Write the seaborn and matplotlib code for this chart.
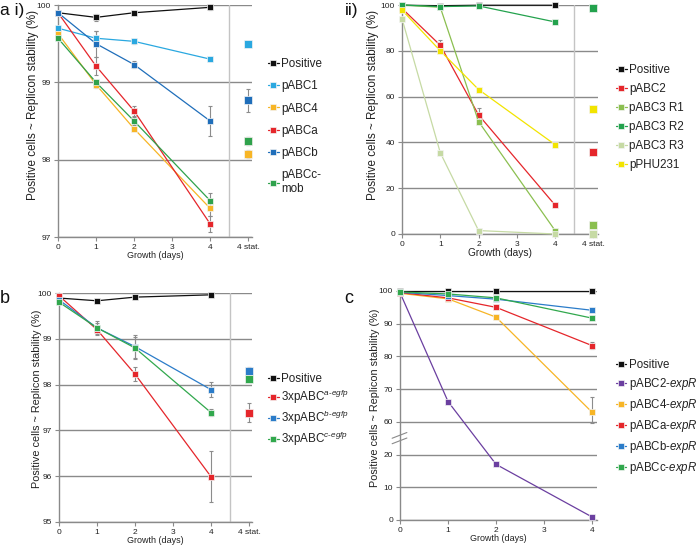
import numpy as np
import matplotlib
matplotlib.use("Agg")
import matplotlib.pyplot as plt
import seaborn as sns

# ---------------- data ----------------
days = [0, 1, 2, 4]
stat_x = [5]
x_ticks = [0, 1, 2, 3, 4, 5]
x_ticklabels = ["0", "1", "2", "3", "4", "4 stat."]

# panel a i)
a_names = ["Positive", "pABC1", "pABC4", "pABCa", "pABCb", "pABCc-\nmob"]
a_colors = ["#111111", "#2AA8E0", "#F7B526", "#E5262B", "#1F6EBA", "#2FA24C"]
a_vals = [
    [99.90, 99.84, 99.90, 99.97],
    [99.70, 99.57, 99.53, 99.30],
    [99.63, 98.97, 98.40, 97.37],
    [99.90, 99.21, 98.63, 97.17],
    [99.90, 99.50, 99.23, 98.50],
    [99.57, 99.00, 98.50, 97.47],
]
a_errs = [
    [0, 0.05, 0.02, 0.04],
    [0, 0.10, 0.03, 0.02],
    [0, 0.04, 0.02, 0.10],
    [0, 0.12, 0.06, 0.10],
    [0, 0.17, 0.05, 0.20],
    [0, 0.03, 0.05, 0.10],
]
a_stat = [None, 99.50, 98.07, 98.24, 98.77, 98.24]
a_stat_err = [0, 0.02, 0.05, 0.05, 0.15, 0.05]

# panel ii)
ii_names = ["Positive", "pABC2", "pABC3 R1", "pABC3 R2", "pABC3 R3", "pPHU231"]
ii_colors = ["#111111", "#E5262B", "#8BBF50", "#23A24D", "#C6DAA4", "#F2E400"]
ii_vals = [
    [99.9, 99.7, 99.9, 99.9],
    [98.5, 82.4, 52.0, 12.6],
    [100.0, 99.0, 49.1, 1.5],
    [100.0, 99.3, 99.6, 92.6],
    [94.0, 35.5, 1.5, 0.0],
    [97.8, 80.0, 63.1, 39.0],
]
ii_errs = [
    [0, 0, 0, 0],
    [0, 2.5, 3.2, 0],
    [0, 0, 0, 0],
    [0, 0, 0, 0],
    [0, 0, 0, 0],
    [0, 0, 0, 0],
]
ii_stat = [None, 36.0, 4.1, 98.5, 0.2, 54.8]
ii_stat_err = [0, 0, 0, 0, 0, 0]

# panel b
b_names = ["Positive",
           "3xpABC$^{\\mathit{a}\\text{-}\\mathit{egfp}}$",
           "3xpABC$^{\\mathit{b}\\text{-}\\mathit{egfp}}$",
           "3xpABC$^{\\mathit{c}\\text{-}\\mathit{egfp}}$"]
b_colors = ["#111111", "#E5262B", "#2B7CC9", "#31A84D"]
b_vals = [
    [99.89, 99.83, 99.91, 99.96],
    [99.94, 99.20, 98.23, 95.99],
    [99.85, 99.24, 98.83, 97.89],
    [99.80, 99.24, 98.80, 97.39],
]
b_errs = [
    [0, 0.02, 0.02, 0.03],
    [0, 0.10, 0.15, 0.56],
    [0, 0.15, 0.25, 0.17],
    [0, 0.10, 0.25, 0.08],
]
b_stat = [None, 97.39, 98.30, 98.13]
b_stat_err = [0, 0.20, 0.08, 0.05]

# panel c
c_names = ["Positive", "pABC2-$\\mathit{expR}$", "pABC4-$\\mathit{expR}$",
           "pABCa-$\\mathit{expR}$", "pABCb-$\\mathit{expR}$", "pABCc-$\\mathit{expR}$"]
c_colors = ["#111111", "#6B3FA0", "#F7B526", "#E5262B", "#2B7CC9", "#31A84D"]
c_vals = [
    [99.9, 99.9, 99.9, 99.9],
    [99.5, 66.2, 17.0, 0.9],
    [99.3, 97.6, 92.0, 62.9],
    [99.5, 97.9, 95.0, 83.3],
    [99.6, 98.6, 97.5, 94.1],
    [99.7, 99.1, 97.9, 91.7],
]
c_errs = [
    [0, 0, 0, 0],
    [0, 0, 0, 0],
    [0, 0, 0, 4.8],
    [0, 0, 0, 1.0],
    [0, 0, 0, 0],
    [0, 0, 0, 0],
]
c_yticks = [0, 10, 20, 60, 70, 80, 90, 100]

# ---------------- style ----------------
sns.set_theme(style="white")
plt.rcParams["font.family"] = ["Liberation Sans", "DejaVu Sans"]
plt.rcParams["mathtext.fontset"] = "custom"
plt.rcParams["mathtext.rm"] = "Liberation Sans"
plt.rcParams["mathtext.it"] = "Liberation Sans:italic"

GRID = "#8a8a8a"
SPINE = "#8a8a8a"
ERR = "#8c8c8c"
TXT = "#222222"

fig = plt.figure(figsize=(6.97, 5.47), dpi=100)
W, H = 697.0, 547.0


def add_ax(left, right, top, bottom):
    return fig.add_axes([left / W, 1 - bottom / H, (right - left) / W, (bottom - top) / H])


def style_ax(ax):
    sns.despine(ax=ax)
    for s in ("left", "bottom"):
        ax.spines[s].set_color(SPINE)
        ax.spines[s].set_linewidth(1.0)
    ax.yaxis.grid(True, color=GRID, lw=1.0)
    ax.xaxis.grid(False)
    ax.set_axisbelow(True)
    ax.tick_params(axis="both", which="major", length=3, width=0.8, color=SPINE,
                   labelsize=6, labelcolor=TXT, pad=2, direction="out",
                   bottom=True, left=True)


def draw_series(ax, names, colors, vals, errs, stat=None, stat_err=None):
    for i, (nm, col, v, e) in enumerate(zip(names, colors, vals, errs)):
        sns.lineplot(x=days, y=v, ax=ax, color=col, marker="s", markersize=5,
                     markeredgecolor="#f4f4f4", markeredgewidth=0.5, lw=0.9,
                     label=nm, clip_on=False, zorder=3 + i * 0.01, errorbar=None)
        idx = [k for k, ev in enumerate(e) if ev > 0]
        if idx:
            ax.errorbar([days[k] for k in idx], [v[k] for k in idx],
                        yerr=[e[k] for k in idx], fmt="none", ecolor=ERR,
                        elinewidth=0.8, capsize=1.5, capthick=0.8, zorder=2.5)
        if stat is not None and stat[i] is not None:
            sns.scatterplot(x=stat_x, y=[stat[i]], ax=ax, color=col, marker="s", s=26,
                            edgecolor="#f4f4f4", linewidth=0.5, zorder=3 + i * 0.01,
                            legend=False, clip_on=False)
            if stat_err[i] > 0:
                ax.errorbar(stat_x, [stat[i]], yerr=[stat_err[i]], fmt="none",
                            ecolor=ERR, elinewidth=0.8, capsize=1.5, capthick=0.8,
                            zorder=2.5)


def finish(ax, xmax, with_stat, ylim, yticks, xlabel_size, ylabel_size, ylab_xy,
           leg_xy, leg_size, leg_spacing):
    ax.set_xlim(0, xmax)
    ax.set_ylim(*ylim)
    ax.set_yticks(yticks)
    if with_stat:
        ax.set_xticks(x_ticks)
        ax.set_xticklabels(x_ticklabels)
        ax.axvline(4.5, color="#c4c4c4", lw=1.0, zorder=1)
    else:
        ax.set_xticks(x_ticks[:5])
        ax.set_xticklabels(x_ticklabels[:5])
    ax.set_xlabel("Growth (days)", fontsize=xlabel_size, color=TXT, labelpad=0)
    ax.set_ylabel("Positive cells ~ Replicon stability (%)", fontsize=ylabel_size, color=TXT)
    ax.yaxis.set_label_coords(*ylab_xy)
    leg = ax.legend(loc="upper left", bbox_to_anchor=(leg_xy[0] / W, 1 - leg_xy[1] / H),
                    bbox_transform=fig.transFigure, frameon=False, fontsize=leg_size,
                    handlelength=0.9, handletextpad=0.25, labelspacing=leg_spacing,
                    borderpad=0, borderaxespad=0, markerscale=1.0)
    for t in leg.get_texts():
        t.set_color(TXT)


# ---- panel a i)
ax = add_ax(58, 252, 5, 237)
style_ax(ax)
draw_series(ax, a_names, a_colors, a_vals, a_errs, a_stat, a_stat_err)
finish(ax, 5.1, True, (97, 100), [97, 98, 99, 100], 6.5, 8.4, (-0.096, 0.57),
       (268, 58), 8.4, 0.88)

# ---- panel ii)
ax = add_ax(402, 598, 5, 234)
style_ax(ax)
draw_series(ax, ii_names, ii_colors, ii_vals, ii_errs, ii_stat, ii_stat_err)
finish(ax, 5.12, True, (0, 100), [0, 20, 40, 60, 80, 100], 7.3, 8.4, (-0.115, 0.565),
       (616, 64), 8.4, 0.6)

# ---- panel b
ax = add_ax(59, 252, 293, 522)
style_ax(ax)
draw_series(ax, b_names, b_colors, b_vals, b_errs, b_stat, b_stat_err)
finish(ax, 5.08, True, (95, 100), [95, 96, 97, 98, 99, 100], 6.5, 7.8, (-0.09, 0.54),
       (268, 373), 8.4, 0.25)

# ---- panel c (broken y axis)
def fwd(y):
    y = np.asarray(y, dtype=float)
    return np.where(y <= 20, y, np.where(y >= 60, y - 30, 20 + (y - 20) * 0.25))


def inv(z):
    z = np.asarray(z, dtype=float)
    return np.where(z <= 20, z, np.where(z >= 30, z + 30, 20 + (z - 20) * 4))


ax = add_ax(400, 597, 291, 520)
ax.set_yscale("function", functions=(fwd, inv))
style_ax(ax)
draw_series(ax, c_names, c_colors, c_vals, c_errs)
finish(ax, 4.1, False, (0, 100), c_yticks, 6.5, 7.8, (-0.102, 0.533),
       (616, 359), 8.3, 0.44)
ax.yaxis.set_minor_locator(matplotlib.ticker.NullLocator())
# break marks on the y axis
for dy in (-0.012, 0.012):
    ax.plot([-0.04, 0.035], [0.345 + dy, 0.37 + dy], transform=ax.transAxes,
            color=SPINE, lw=0.8, clip_on=False)

# panel labels
fig.text(0.0, 1 - 15 / H, "a i)", fontsize=12.5, color="#111111", va="baseline")
fig.text(345 / W, 1 - 15 / H, "ii)", fontsize=12.5, color="#111111", va="baseline")
fig.text(0.0, 1 - 303 / H, "b", fontsize=13, color="#111111", va="baseline")
fig.text(344 / W, 1 - 303 / H, "c", fontsize=13, color="#111111", va="baseline")

fig.savefig("out.png", dpi=100)
